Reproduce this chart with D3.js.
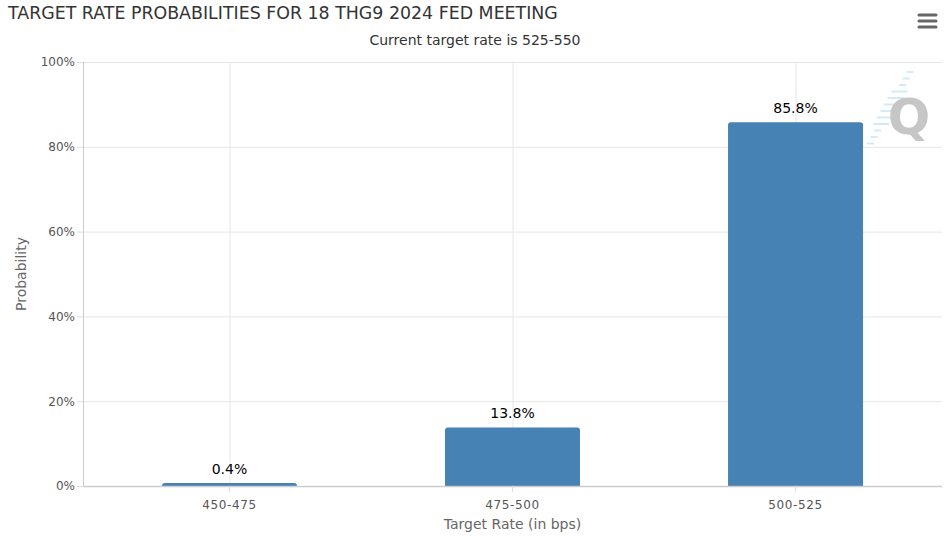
<!DOCTYPE html>
<html>
<head>
<meta charset="utf-8">
<script src="https://cdn.jsdelivr.net/npm/d3@7.9.0/dist/d3.min.js"></script>
<style>
  body { margin: 0; background: #fff; }
  svg { display: block; font-family: "DejaVu Sans", sans-serif; }
</style>
</head>
<body>
<svg id="chart" width="946" height="553"></svg>
<script>
const categories = ['450-475', '475-500', '500-525'];
const probabilities = [0.4, 13.8, 85.8];
const yTicks = [0, 20, 40, 60, 80, 100];

const svg = d3.select('#chart');
const margin = { top: 62, right: 4, bottom: 67, left: 83 };
const width = 946, height = 553;

const x = d3.scaleBand()
  .domain(categories)
  .range([margin.left, width - margin.right])
  .paddingInner(0.523)
  .paddingOuter(0.279);

const y = d3.scaleLinear()
  .domain([0, 100])
  .range([height - margin.bottom, margin.top]);

// title + subtitle
svg.append('text')
  .attr('x', 8).attr('y', 19)
  .attr('font-size', 17.4)
  .attr('fill', '#333')
  .text('TARGET RATE PROBABILITIES FOR 18 THG9 2024 FED MEETING');

svg.append('text')
  .attr('x', 475).attr('y', 45)
  .attr('text-anchor', 'middle')
  .attr('font-size', 14)
  .attr('fill', '#333')
  .text('Current target rate is 525-550');

// menu icon
[15, 21, 27].forEach(yy => {
  svg.append('line')
    .attr('x1', 919).attr('x2', 936)
    .attr('y1', yy).attr('y2', yy)
    .attr('stroke', '#666').attr('stroke-width', 3)
    .attr('stroke-linecap', 'round');
});

// horizontal grid
svg.append('g')
  .selectAll('line')
  .data(yTicks.filter(d => d > 0))
  .join('line')
  .attr('x1', margin.left).attr('x2', width - margin.right)
  .attr('y1', d => y(d) + 0.5).attr('y2', d => y(d) + 0.5)
  .attr('stroke', '#e6e6e6');

// vertical grid at category centers
svg.append('g')
  .selectAll('line')
  .data(categories)
  .join('line')
  .attr('x1', d => x(d) + x.bandwidth() / 2 + 0.5)
  .attr('x2', d => x(d) + x.bandwidth() / 2 + 0.5)
  .attr('y1', margin.top).attr('y2', height - margin.bottom)
  .attr('stroke', '#e6e6e6');

// watermark
const wm = svg.append('g');
d3.range(12).forEach(i => {
  const yy = 72 + i * 6.5;
  const len = (i > 2 && i < 9) ? 16 : 7;
  wm.append('line')
    .attr('x1', 910 - i * 3.6 - len / 2).attr('x2', 910 - i * 3.6 + len / 2)
    .attr('y1', yy).attr('y2', yy)
    .attr('stroke', '#d3ebf8').attr('stroke-width', 2);
});
wm.append('text')
  .attr('x', 909).attr('y', 134)
  .attr('text-anchor', 'middle')
  .attr('font-size', 50).attr('font-weight', 'bold')
  .attr('fill', '#c6c6c6')
  .text('Q');

// bars with rounded tops
const r = 3;
svg.append('g')
  .selectAll('path')
  .data(probabilities)
  .join('path')
  .attr('fill', '#4682b4')
  .attr('d', (d, i) => {
    const x0 = x(categories[i]), x1 = x0 + x.bandwidth();
    const yb = y(0), yt = Math.min(y(d), yb - r);
    return `M${x0},${yb}V${yt + r}Q${x0},${yt} ${x0 + r},${yt}H${x1 - r}Q${x1},${yt} ${x1},${yt + r}V${yb}Z`;
  });

// value labels
svg.append('g')
  .selectAll('text')
  .data(probabilities)
  .join('text')
  .attr('x', (d, i) => x(categories[i]) + x.bandwidth() / 2)
  .attr('y', d => Math.min(y(d), y(0) - 3) - 9)
  .attr('text-anchor', 'middle')
  .attr('font-size', 14)
  .attr('fill', '#000')
  .attr('stroke', '#fff').attr('stroke-width', 2).attr('paint-order', 'stroke')
  .text(d => d + '%');

// axes lines
svg.append('line')
  .attr('x1', margin.left + 0.5).attr('x2', margin.left + 0.5)
  .attr('y1', margin.top).attr('y2', height - margin.bottom)
  .attr('stroke', '#ccc');
svg.append('line')
  .attr('x1', margin.left).attr('x2', width - margin.right)
  .attr('y1', y(0) + 0.5).attr('y2', y(0) + 0.5)
  .attr('stroke', '#ccc').attr('stroke-width', 1.5);

// y tick labels
const yAxis = svg.append('g')
  .attr('transform', `translate(${margin.left},0)`)
  .call(d3.axisLeft(y).tickValues(yTicks).tickFormat(d => d + '%').tickSize(6).tickPadding(2));
yAxis.select('.domain').remove();
yAxis.selectAll('line').attr('stroke', '#ddd');
yAxis.selectAll('text').attr('font-size', 12).attr('fill', '#555').attr('font-family', 'DejaVu Sans');

// x tick labels
const xAxis = svg.append('g')
  .attr('transform', `translate(0,${y(0)})`)
  .call(d3.axisBottom(x).tickSize(6).tickPadding(8));
xAxis.select('.domain').remove();
xAxis.selectAll('line').attr('stroke', '#ddd');
xAxis.selectAll('text').attr('font-size', 12).attr('fill', '#555')
  .attr('font-family', 'DejaVu Sans').attr('letter-spacing', 0.6);

// axis titles
svg.append('text')
  .attr('x', (margin.left + width - margin.right) / 2)
  .attr('y', 529)
  .attr('text-anchor', 'middle')
  .attr('font-size', 14).attr('fill', '#666')
  .text('Target Rate (in bps)');

svg.append('text')
  .attr('transform', `translate(26,${(y(0) + y(100)) / 2}) rotate(-90)`)
  .attr('text-anchor', 'middle')
  .attr('font-size', 14).attr('fill', '#666')
  .text('Probability');
</script>
</body>
</html>
